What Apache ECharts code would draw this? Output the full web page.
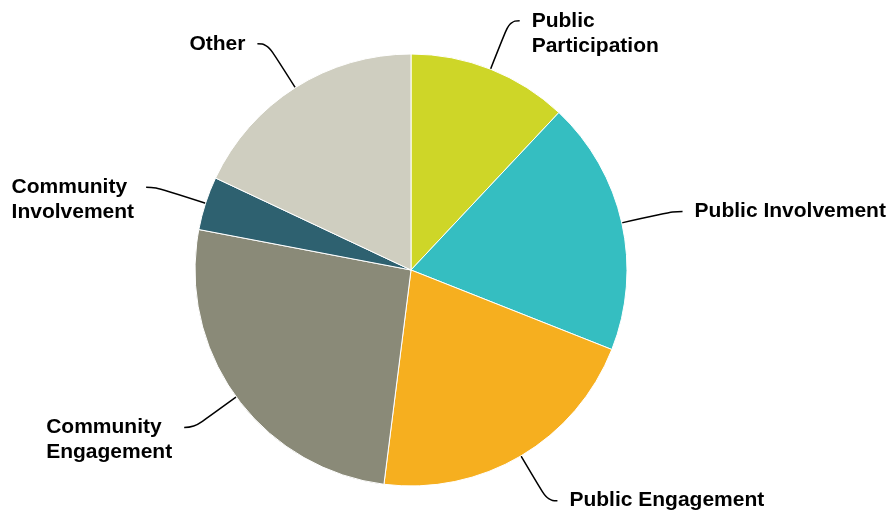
<!DOCTYPE html>
<html>
<head>
<meta charset="utf-8">
<script src="https://cdn.jsdelivr.net/npm/echarts@6/dist/echarts.min.js"></script>
<style>
  html, body { margin: 0; padding: 0; background: #fff; }
  #chart { width: 895px; height: 517px; }
</style>
</head>
<body>
<div id="chart"></div>
<script>
// Share of terms used, clockwise from 12 o'clock
const categories = [
  'Public\nParticipation',
  'Public Involvement',
  'Public Engagement',
  'Community\nEngagement',
  'Community\nInvolvement',
  'Other'
];
const values = [12, 19, 21, 26, 4, 18];
const colors = ['#CED628', '#35BEC1', '#F6AF1F', '#8A8A78', '#2E6170', '#CFCEC0'];

const data = categories.map((name, i) => ({
  name: name,
  value: values[i],
  itemStyle: { color: colors[i] }
}));

const FONT = {
  color: '#000',
  fontFamily: "'Liberation Sans', Arial, sans-serif",
  fontWeight: 'bold',
  fontSize: 21,
  lineHeight: 25
};

const chart = echarts.init(document.getElementById('chart'), null, { renderer: 'canvas' });
chart.setOption({
  animation: false,
  series: [{
    type: 'pie',
    center: [411, 270],
    radius: 216,
    startAngle: 90,
    clockwise: true,
    avoidLabelOverlap: false,
    data: data,
    itemStyle: { borderColor: '#fff', borderWidth: 1 },
    label: Object.assign({
      show: true,
      position: 'outside',
      distanceToLabelLine: 12,
      rich: { t: Object.assign({ align: 'left' }, FONT) },
      // multi-line names are left-aligned; a blank first line keeps the
      // leader line level with the first text line
      formatter: p => {
        const lines = p.name.split('\n').map(s => '{t|' + s + '}');
        return (lines.length > 1 ? '{t| }\n' : '') + lines.join('\n');
      }
    }, FONT),
    labelLine: {
      show: true,
      length: 52,
      length2: 10,
      smooth: 0.5,
      lineStyle: { color: '#000', width: 1.5 }
    },
    emphasis: { disabled: true }
  }]
});
</script>
</body>
</html>
